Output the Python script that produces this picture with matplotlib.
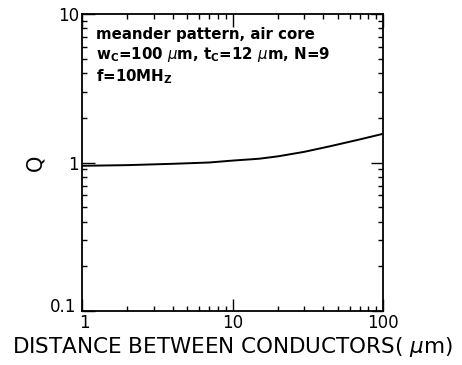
import matplotlib
matplotlib.use('Agg')
import matplotlib.pyplot as plt
import matplotlib.transforms as mtransforms
from matplotlib.ticker import LogLocator, NullFormatter, FixedLocator, FixedFormatter

# data
distance = [1, 2, 4, 7, 10, 15, 20, 30, 45, 70, 100]
q_value = [0.95, 0.96, 0.98, 1.00, 1.03, 1.06, 1.10, 1.18, 1.29, 1.43, 1.56]

x_ticks = [1, 10, 100]
x_tick_labels = ['1', '10', '100']
y_ticks = [0.1, 1, 10]
y_tick_labels = ['0.1', '1', '10']

plt.rcParams['font.family'] = ['DejaVu Sans']
plt.rcParams['mathtext.fontset'] = 'dejavusans'

fig = plt.figure(figsize=(4.62, 3.65), dpi=100)
ax = fig.add_axes([82 / 462, 1 - 311 / 365, 301 / 462, 297 / 365])

ax.plot(distance, q_value, color='black', linewidth=1.4)
ax.set_xscale('log')
ax.set_yscale('log')
ax.set_xlim(1, 100)
ax.set_ylim(0.1, 10)

ax.xaxis.set_major_locator(FixedLocator(x_ticks))
ax.xaxis.set_major_formatter(FixedFormatter(x_tick_labels))
ax.yaxis.set_major_locator(FixedLocator(y_ticks))
ax.yaxis.set_major_formatter(FixedFormatter(y_tick_labels))
for axis in (ax.xaxis, ax.yaxis):
    axis.set_minor_locator(LogLocator(base=10, subs=range(2, 10)))
    axis.set_minor_formatter(NullFormatter())

ax.tick_params(which='both', direction='in', top=True, right=True, width=1.0)
ax.tick_params(which='major', length=9, labelsize=12, pad=2)
ax.tick_params(which='minor', length=3.5)
for s in ax.spines.values():
    s.set_linewidth(1.3)

# nudge the corner labels apart like in the original
fig.canvas.draw()
ylab = ax.yaxis.get_majorticklabels()[0]
ylab.set_transform(ylab.get_transform() + mtransforms.ScaledTranslation(-3 / 100, 6 / 100, fig.dpi_scale_trans))
xlab = ax.xaxis.get_majorticklabels()[0]
xlab.set_transform(xlab.get_transform() + mtransforms.ScaledTranslation(2 / 100, 0, fig.dpi_scale_trans))

ax.set_xlabel('DISTANCE BETWEEN CONDUCTORS( $\\mu$m)', fontsize=15.5, labelpad=2)
ax.set_ylabel('Q', fontsize=15, rotation=90, labelpad=3)

txt = ('meander pattern, air core\n'
       'w$_\\mathregular{C}$=100 $\\mu$m, t$_\\mathregular{C}$=12 $\\mu$m, N=9\n'
       'f=10MH$_\\mathregular{Z}$')
ax.text(0.045, 0.955, txt, transform=ax.transAxes, ha='left', va='top',
        fontsize=10.8, fontweight='bold', linespacing=1.2)

fig.savefig('out.png', dpi=100)
